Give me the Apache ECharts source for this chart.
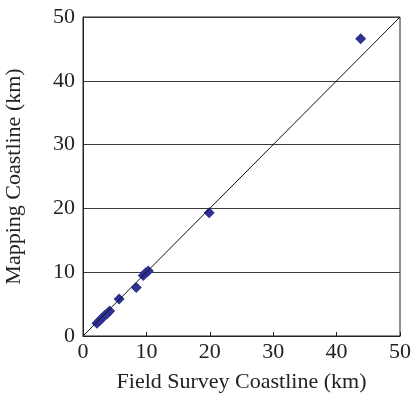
<!DOCTYPE html>
<html>
<head>
<meta charset="utf-8">
<script src="https://cdn.jsdelivr.net/npm/echarts@6/dist/echarts.min.js"></script>
<style>
  html, body { margin: 0; padding: 0; background: #fff; }
  #chart { width: 414px; height: 394px; }
</style>
</head>
<body>
<div id="chart"></div>
<script>
// field survey (x) vs mapping (y) coastline lengths, km
const fieldSurvey = [2.2, 2.6, 3.0, 3.4, 3.8, 4.2, 5.7, 8.4, 9.5, 9.9, 10.3, 19.9, 43.8]
const mapping     = [2.0, 2.4, 2.8, 3.2, 3.5, 3.9, 5.8, 7.6, 9.5, 9.9, 10.2, 19.3, 46.6]
const tickValues = [0, 10, 20, 30, 40, 50]
const oneToOne = [[0, 0], [50, 50]]

const chart = echarts.init(document.getElementById('chart'))
const font = 'Liberation Serif'

const points = fieldSurvey.map((x, i) => [x, mapping[i]])

const option = {
  animation: false,
  grid: {
    left: 83,
    right: 14,
    top: 17,
    bottom: 58,
    outerBoundsMode: 'none',
    containLabel: false,
    show: true,
    borderColor: '#222',
    borderWidth: 1
  },
  xAxis: {
    type: 'value',
    min: tickValues[0],
    max: tickValues[tickValues.length - 1],
    interval: 10,
    name: 'Field Survey Coastline (km)',
    nameLocation: 'middle',
    nameGap: 35,
    nameTextStyle: { fontFamily: font, fontSize: 22, color: '#222' },
    axisLine: { lineStyle: { color: '#222', width: 1 } },
    axisTick: { inside: true, length: 4, lineStyle: { color: '#222' } },
    axisLabel: { fontFamily: font, fontSize: 22, color: '#222', margin: 5 },
    splitLine: { show: false }
  },
  yAxis: {
    type: 'value',
    min: tickValues[0],
    max: tickValues[tickValues.length - 1],
    interval: 10,
    name: 'Mapping Coastline (km)',
    nameLocation: 'middle',
    nameGap: 58,
    nameTextStyle: { fontFamily: font, fontSize: 22, color: '#222' },
    axisLine: { lineStyle: { color: '#222', width: 1 } },
    axisTick: { show: false },
    axisLabel: { fontFamily: font, fontSize: 22, color: '#222', margin: 8 },
    splitLine: { show: true, lineStyle: { color: '#3a3a3a', width: 1 } }
  },
  series: [
    {
      type: 'line',
      data: oneToOne,
      symbol: 'none',
      lineStyle: { color: '#111', width: 1 },
      silent: true
    },
    {
      type: 'scatter',
      data: points,
      symbol: 'diamond',
      symbolSize: 11,
      itemStyle: { color: '#2e3192', opacity: 1 }
    }
  ]
}

chart.setOption(option)
</script>
</body>
</html>
